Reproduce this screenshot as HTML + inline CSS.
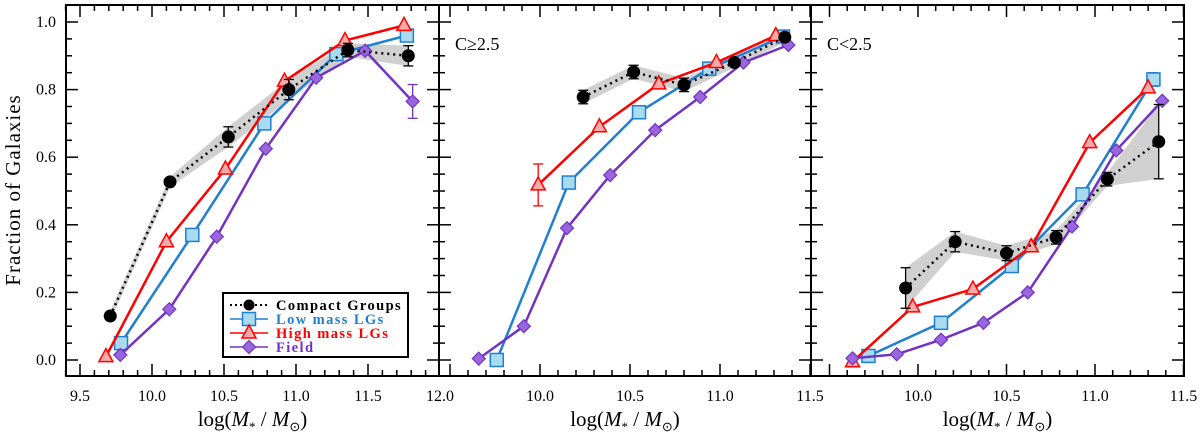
<!DOCTYPE html>
<html><head><meta charset="utf-8">
<style>
html,body{margin:0;padding:0;background:#fff;}
svg{display:block;}
</style></head>
<body>
<svg id="chart" width="1200" height="435" viewBox="0 0 1200 435" xmlns="http://www.w3.org/2000/svg" font-family="Liberation Serif, serif">
</svg>
<script>
// ---- Data ----
const yTicks = [0.0, 0.2, 0.4, 0.6, 0.8, 1.0];
const xTicks1 = [9.5, 10.0, 10.5, 11.0, 11.5, 12.0];
const xTicks2 = [10.0, 10.5, 11.0, 11.5];
const xTicks3 = [10.0, 10.5, 11.0, 11.5];
const panelLabels = ["", "C\u22652.5", "C<2.5"];
const seriesNames = ["Compact Groups", "Low mass LGs", "High mass LGs", "Field"];

// Panel 1
const p1cgX = [9.71, 10.125, 10.53, 10.95, 11.36, 11.78];
const p1cgY = [0.13, 0.527, 0.66, 0.80, 0.917, 0.90];
const p1cgE = [0.01, 0.015, 0.03, 0.03, 0.02, 0.03];
const p1lowX = [9.785, 10.28, 10.78, 11.28, 11.77];
const p1lowY = [0.05, 0.37, 0.70, 0.905, 0.96];
const p1highX = [9.68, 10.10, 10.51, 10.92, 11.34, 11.75];
const p1highY = [0.01, 0.35, 0.565, 0.825, 0.945, 0.99];
const p1fieldX = [9.78, 10.12, 10.45, 10.79, 11.14, 11.48, 11.81];
const p1fieldY = [0.015, 0.15, 0.365, 0.625, 0.835, 0.915, 0.765];
const p1fieldE = [0, 0, 0, 0, 0, 0, 0.05];
const p1highE = [0,0,0,0,0,0];
const p1lowE = [0,0,0,0,0];

// Panel 2
const p2cgX = [10.24, 10.52, 10.80, 11.08, 11.36];
const p2cgY = [0.778, 0.852, 0.814, 0.88, 0.955];
const p2cgE = [0.02, 0.02, 0.02, 0.015, 0.01];
const p2lowX = [9.76, 10.16, 10.55, 10.94, 11.35];
const p2lowY = [0.0, 0.525, 0.733, 0.862, 0.957];
const p2lowE = [0,0,0,0,0];
const p2highX = [9.99, 10.33, 10.66, 10.98, 11.31];
const p2highY = [0.518, 0.69, 0.817, 0.88, 0.96];
const p2highE = [0.062, 0, 0, 0, 0];
const p2fieldX = [9.66, 9.91, 10.15, 10.39, 10.64, 10.89, 11.13, 11.38];
const p2fieldY = [0.004, 0.10, 0.39, 0.547, 0.68, 0.778, 0.88, 0.932];
const p2fieldE = [0,0,0,0,0,0,0,0];

// Panel 3
const p3cgX = [9.93, 10.21, 10.50, 10.78, 11.07, 11.36];
const p3cgY = [0.213, 0.35, 0.316, 0.363, 0.535, 0.646];
const p3cgE = [0.06, 0.03, 0.022, 0.02, 0.02, 0.11];
const p3lowX = [9.72, 10.13, 10.53, 10.93, 11.33];
const p3lowY = [0.012, 0.11, 0.278, 0.49, 0.83];
const p3lowE = [0, 0, 0, 0, 0.02];
const p3highX = [9.63, 9.97, 10.31, 10.64, 10.97, 11.30];
const p3highY = [-0.005, 0.157, 0.21, 0.335, 0.643, 0.805];
const p3highE = [0,0,0,0,0,0];
const p3fieldX = [9.63, 9.88, 10.13, 10.37, 10.62, 10.87, 11.12, 11.38];
const p3fieldY = [0.005, 0.017, 0.06, 0.11, 0.20, 0.395, 0.62, 0.767];
const p3fieldE = [0,0,0,0,0,0,0,0];

// ---- Layout ----
const NS = "http://www.w3.org/2000/svg";
const svg = document.getElementById('chart');
const TOP = 5, BOT = 376;
const yPix = v => 360 - v * 338;
const panels = [
  {l:66, r:439, x0:10.0, px0:152, ppu:144, ticks:xTicks1, minStart:9.4, minEnd:12.0,
   cg:[p1cgX,p1cgY,p1cgE], low:[p1lowX,p1lowY,p1lowE], high:[p1highX,p1highY,p1highE], field:[p1fieldX,p1fieldY,p1fieldE]},
  {l:439, r:811, x0:10.0, px0:540, ppu:180, ticks:xTicks2, minStart:9.5, minEnd:11.5,
   cg:[p2cgX,p2cgY,p2cgE], low:[p2lowX,p2lowY,p2lowE], high:[p2highX,p2highY,p2highE], field:[p2fieldX,p2fieldY,p2fieldE]},
  {l:811, r:1184, x0:10.0, px0:918, ppu:177, ticks:xTicks3, minStart:9.5, minEnd:11.5,
   cg:[p3cgX,p3cgY,p3cgE], low:[p3lowX,p3lowY,p3lowE], high:[p3highX,p3highY,p3highE], field:[p3fieldX,p3fieldY,p3fieldE]}
];
function mk(tag, attrs, parent){
  const e = document.createElementNS(NS, tag);
  for (const k in attrs) e.setAttribute(k, attrs[k]);
  (parent||svg).appendChild(e);
  return e;
}
const colors = {
  low:{line:"#1f7fd0", fill:"#a8daf0"},
  high:{line:"#ff0000", fill:"#ffaaaa"},
  field:{line:"#7233c4", fill:"#9a66dd"}
};
function marker(g, kind, x, y, c){
  let m;
  if (kind==='low') m = mk('rect',{x:x-6.5,y:y-6.5,width:13,height:13,fill:c.fill,stroke:c.line,'stroke-width':1.5},g);
  else if (kind==='high') m = mk('polygon',{points:`${x},${y-8} ${x-7},${y+5} ${x+7},${y+5}`,fill:c.fill,stroke:c.line,'stroke-width':1.5},g);
  else m = mk('polygon',{points:`${x},${y-6.5} ${x+6.5},${y} ${x},${y+6.5} ${x-6.5},${y}`,fill:c.fill,stroke:c.line,'stroke-width':1.2},g);
  return m;
}
function errbar(g, x, y0, y1, color){
  const e = mk('g',{},g);
  
  
  mk('line',{x1:x,x2:x,y1:y0,y2:y1,stroke:color,'stroke-width':1.3},e);
  mk('line',{x1:x-5,x2:x+5,y1:y0,y2:y0,stroke:color,'stroke-width':1.3},e);
  mk('line',{x1:x-5,x2:x+5,y1:y1,y2:y1,stroke:color,'stroke-width':1.3},e);
}

panels.forEach((p, pi) => {
  const xPix = v => p.px0 + (v - p.x0) * p.ppu;
  const g = mk('g',{});
  
  
  const [cx, cy, ce] = p.cg;
  let up = [], dn = [];
  cx.forEach((v,i)=>{ up.push(xPix(v)+','+yPix(cy[i]+Math.max(ce[i],0.015))); dn.unshift(xPix(v)+','+yPix(cy[i]-Math.max(ce[i],0.015))); });
  const band = mk('polygon',{points:up.concat(dn).join(' '),fill:"#d0d0d0",stroke:"none"},g);
  
  
  ['low','high','field'].forEach(k => {
    const [xs, ys, es] = p[k];
    const c = colors[k];
    const sg = mk('g',{},g);
    
    
    mk('polyline',{points:xs.map((v,i)=>xPix(v)+','+yPix(ys[i])).join(' '),fill:'none',stroke:c.line,'stroke-width':2.5},sg);
    xs.forEach((v,i)=>{ if (es[i]>0) errbar(sg, xPix(v), yPix(ys[i]+es[i]), yPix(ys[i]-es[i]), c.line); });
    xs.forEach((v,i)=>{
      const m = marker(sg, k, xPix(v), yPix(ys[i]), c);
      
      
    });
  });
  const cg = mk('g',{},g);
  
  
  mk('polyline',{points:cx.map((v,i)=>xPix(v)+','+yPix(cy[i])).join(' '),fill:'none',stroke:'#000','stroke-width':2.5,'stroke-dasharray':'2 4'},cg);
  cx.forEach((v,i)=>{ if (ce[i]>=0.02) errbar(cg, xPix(v), yPix(cy[i]+ce[i]), yPix(cy[i]-ce[i]), '#000'); });
  cx.forEach((v,i)=>{
    const m = mk('circle',{cx:xPix(v),cy:yPix(cy[i]),r:6.5,fill:'#000'},cg);
    
    
  });
  const fr = mk('rect',{x:p.l,y:TOP,width:p.r-p.l,height:BOT-TOP,fill:'none',stroke:'#000','stroke-width':2},g);
  
  
  for (let v=0; v<=1.05001; v+=0.05){
    const y = yPix(v);
    const major = Math.abs(v*5 - Math.round(v*5))<1e-6;
    const L = major?12:6;
    mk('line',{x1:p.l,x2:p.l+L,y1:y,y2:y,stroke:'#000','stroke-width':1.5},g);
    mk('line',{x1:p.r,x2:p.r-L,y1:y,y2:y,stroke:'#000','stroke-width':1.5},g);
  }
  for (let v=p.minStart; v<=p.minEnd+1e-6; v+=0.1){
    const x = xPix(v);
    if (x < p.l-0.5 || x > p.r+0.5) continue;
    const major = Math.abs(v*2 - Math.round(v*2))<1e-6;
    const L = major?12:6;
    mk('line',{x1:x,x2:x,y1:BOT,y2:BOT-L,stroke:'#000','stroke-width':1.5},g);
    mk('line',{x1:x,x2:x,y1:TOP,y2:TOP+L,stroke:'#000','stroke-width':1.5},g);
  }
  p.ticks.forEach(v => {
    const t = mk('text',{x:xPix(v),y:401,'text-anchor':'middle','font-size':16,fill:'#000'},g);
    t.textContent = v.toFixed(1);
    
    
  });
  const xt = mk('text',{x:(p.l+p.r)/2,y:426,'text-anchor':'middle','font-size':21,fill:'#000'},g);
  xt.innerHTML = 'log(<tspan font-style="italic">M</tspan><tspan font-size="13" dy="5">*</tspan><tspan dy="-5"> / </tspan><tspan font-style="italic">M</tspan><tspan font-size="13" dy="5">\u2299</tspan><tspan dy="-5">)</tspan>';
  
  
  if (panelLabels[pi]) {
    const pl = mk('text',{x:p.l+16,y:50,'font-size':18,fill:'#000'},g);
    pl.textContent = panelLabels[pi];
    
    
  }
});
yTicks.forEach(v => {
  const t = mk('text',{x:56,y:yPix(v)+5,'text-anchor':'end','font-size':16,fill:'#000'});
  t.textContent = v.toFixed(1);
  
  
});
const yt = mk('text',{x:0,y:0,'text-anchor':'middle','font-size':21,fill:'#000','letter-spacing':1,transform:'translate(20,190) rotate(-90)'});
yt.textContent = 'Fraction of Galaxies';



const lg = mk('g',{});


mk('rect',{x:223,y:293,width:185,height:64,fill:'#fff',stroke:'#000','stroke-width':2},lg);
const legKinds = ['cg','low','high','field'];
const legCol = ['#000', colors.low.line, colors.high.line, colors.field.line];
legKinds.forEach((k,i) => {
  const y = 305 + i*14;
  const e = mk('g',{},lg);
  
  
  if (k==='cg') {
    mk('line',{x1:230,x2:268,y1:y,y2:y,stroke:'#000','stroke-width':2,'stroke-dasharray':'2 3'},e);
    mk('circle',{cx:249,cy:y,r:5.5,fill:'#000'},e);
  } else {
    mk('line',{x1:230,x2:268,y1:y,y2:y,stroke:colors[k].line,'stroke-width':1.5},e);
    marker(e,k,249,y,colors[k]);
  }
  const t = mk('text',{x:276,y:y+5,'font-size':14.5,'font-weight':'bold','letter-spacing':1.4,fill:legCol[i]},e);
  t.textContent = seriesNames[i];
});
</script>
</body></html>
